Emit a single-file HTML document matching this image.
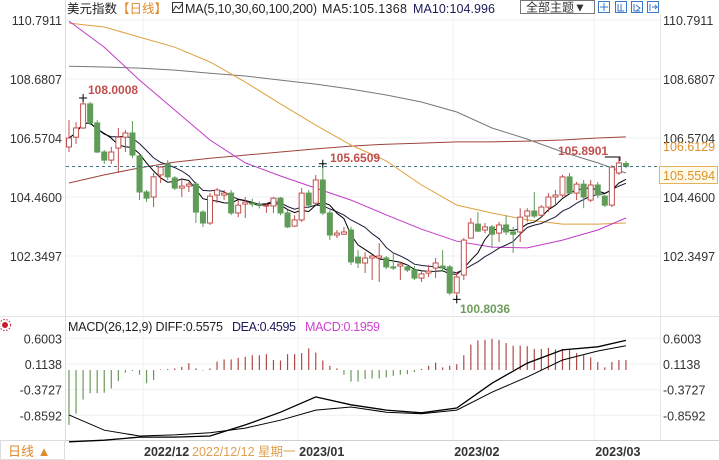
<!DOCTYPE html>
<html><head><meta charset="utf-8"><style>
body{margin:0;background:#fff;}
svg{display:block;font-family:"Liberation Sans","Noto Sans CJK SC",sans-serif;}
</style></head><body>
<svg id="chart" width="719" height="460" viewBox="0 0 719 460" xmlns="http://www.w3.org/2000/svg">
<rect x="0" y="0" width="719" height="460" fill="#fff"/>
<g id="grid" stroke="#eef0f3" stroke-width="1"></g>
<line x1="65.5" y1="0" x2="65.5" y2="440" stroke="#ddd"/>
<line x1="660.5" y1="14" x2="660.5" y2="440" stroke="#e6e6e6"/>
<line x1="0" y1="316.5" x2="719" y2="316.5" stroke="#e4e4e4"/>
<line x1="0" y1="440.5" x2="719" y2="440.5" stroke="#cfcfcf"/>
<g id="mas"></g>
<g id="candles"></g>
<line x1="66" y1="166.5" x2="660" y2="166.5" stroke="#3d7385" stroke-dasharray="3,3"/>
<g id="macd"></g>

<!-- header -->
<text x="67" y="13" font-size="12.5" fill="#222">美元指数</text>
<text x="117" y="13" font-size="12.5" fill="#e08a2a">【日线】</text>
<g><rect x="172.5" y="2.5" width="10" height="10" fill="none" stroke="#333"/><polyline points="173,11 176,6 179,9 182,4" fill="none" stroke="#333"/></g>
<text x="185" y="13" font-size="12.5" fill="#222" textLength="132">MA(5,10,30,60,100,200)</text>
<text x="322" y="13" font-size="12.5" fill="#222" textLength="85">MA5:105.1368</text>
<text x="413" y="13" font-size="12.5" fill="#1a1a5a" textLength="82">MA10:104.996</text>
<g><rect x="520.5" y="0.5" width="74" height="13" fill="#fff" stroke="#777"/><text x="526" y="11.5" font-size="12" fill="#333">全部主题▼</text></g>
<g stroke="#3a78c8" fill="none">
<rect x="598.5" y="1.5" width="11" height="11"/><rect x="615.5" y="1.5" width="11" height="11"/><rect x="631.5" y="1.5" width="11" height="11"/><rect x="647.5" y="1.5" width="11" height="11"/>
<path d="M604 3v8M600 7h8M618 4v7h6M621 4v7M634 4v7h6M636 5l4 3-4 3M650 4v7M652 7h5l-2-2M657 7l-2 2"/>
</g>

<!-- annotations -->
<text x="88" y="94" font-size="12" font-weight="bold" fill="#c0504d">108.0008</text>
<text x="330" y="162" font-size="12" font-weight="bold" fill="#c0504d">105.6509</text>
<text x="558" y="155" font-size="12" font-weight="bold" fill="#c0504d">105.8901</text>
<text x="460" y="313" font-size="12" font-weight="bold" fill="#6f9c5c">100.8036</text>

<g id="axes"></g>
<text x="663" y="151" font-size="12.5" fill="#e0902a">106.6129</text>
<g><rect x="659.5" y="166.5" width="58" height="17" fill="#fffbea" stroke="#e8b060"/><text x="663" y="180" font-size="12.5" fill="#e0902a">105.5594</text></g>

<!-- macd header -->
<g><circle cx="5" cy="325" r="3" fill="#c02030"/><circle cx="5" cy="325" r="5.5" fill="none" stroke="#c02030" stroke-dasharray="1.5,1.5"/></g>
<text x="68" y="331" font-size="12.5" fill="#222" textLength="155">MACD(26,12,9) DIFF:0.5575</text>
<text x="232" y="331" font-size="12.5" fill="#1a1a5a" textLength="64">DEA:0.4595</text>
<text x="305" y="331" font-size="12.5" fill="#d040d0" textLength="75">MACD:0.1959</text>

<!-- bottom -->
<rect x="0.5" y="440.5" width="64" height="19" fill="#fff" stroke="#ddd"/>
<text x="8" y="456" font-size="13" fill="#e08a2a">日线 ▲</text>
<text x="192" y="456" font-size="12.5" fill="#e0a050">2022/12/12 星期一</text>
</svg>
<script>
const opens=[106.25,106.60,106.93,107.79,107.11,106.07,105.78,106.21,106.60,106.75,105.93,104.64,104.46,105.25,105.64,105.14,104.78,104.85,104.92,103.92,103.53,104.53,104.53,104.60,103.89,104.21,104.24,104.20,104.14,104.14,104.42,103.89,103.42,103.64,104.60,104.24,105.07,103.89,103.10,103.13,103.28,102.31,102.10,102.28,102.28,102.28,101.96,101.99,101.96,101.85,101.56,101.74,101.92,101.99,101.96,101.03,101.67,102.99,103.49,103.28,103.39,103.17,103.46,103.21,103.21,103.78,103.96,103.81,104.10,104.46,104.53,105.18,104.60,104.92,104.35,104.89,104.49,104.17,105.32,105.66];
const closes=[106.57,106.93,107.79,107.11,106.07,105.78,106.07,106.60,106.75,105.96,104.64,104.42,105.18,105.53,105.18,104.78,104.85,104.92,103.92,103.53,104.49,104.71,104.60,103.89,104.17,104.28,104.22,104.18,104.17,104.42,103.89,103.39,103.64,104.60,104.17,105.07,103.89,103.10,103.17,103.21,102.14,102.10,102.28,102.35,102.35,101.96,101.92,102.06,101.85,101.56,101.71,101.81,102.10,101.92,101.03,101.60,102.92,103.53,103.24,103.39,103.13,103.46,103.21,103.13,103.74,103.96,103.78,104.10,104.46,104.53,105.18,104.60,104.92,104.46,104.89,104.53,104.17,105.53,105.68,105.56];
const highs=[107.21,107.14,108.00,107.86,107.21,106.14,106.25,106.93,106.86,107.18,106.00,104.71,105.32,105.57,105.78,105.21,105.14,105.00,105.00,103.99,104.60,104.78,104.71,104.71,104.35,104.46,104.40,104.30,104.24,104.46,104.46,103.99,103.81,104.78,104.71,105.25,105.65,103.99,103.28,103.39,103.39,102.56,102.49,102.38,102.81,102.35,102.46,102.13,102.06,101.99,101.85,102.03,102.28,102.56,102.03,101.78,102.99,103.71,103.92,103.53,103.46,103.57,103.81,103.39,104.06,104.06,104.64,104.17,104.60,104.71,105.25,105.32,105.00,105.07,105.07,105.00,104.53,105.60,105.89,105.75];
const lows=[106.07,106.36,106.89,107.03,106.03,105.64,105.64,105.32,106.07,105.85,104.35,104.28,104.10,104.96,105.07,104.71,104.46,104.64,103.53,103.39,103.46,104.24,104.35,103.81,103.74,103.71,104.10,104.05,103.89,103.89,103.81,103.35,103.39,103.57,104.10,104.17,103.81,102.92,102.99,103.10,102.03,101.92,101.74,101.49,101.42,101.88,101.85,101.49,101.78,101.49,101.42,101.60,101.56,101.78,100.95,100.80,101.49,102.99,103.21,103.17,102.63,102.85,103.10,102.46,102.85,103.57,103.71,103.74,103.92,104.17,104.46,104.53,104.35,104.06,104.28,104.42,104.10,104.10,105.25,105.49];
const maIdx=[0,5,10,15,20,25,30,35,40,45,50,55,60,65,70,75,79];
const ma30=[110.75,109.82,108.64,107.57,106.50,105.68,105.21,104.78,104.35,103.82,103.31,102.88,102.67,102.64,102.92,103.28,103.71];
const ma60=[110.68,110.54,110.18,109.82,109.29,108.57,107.79,107.03,106.32,105.75,104.89,104.17,103.89,103.64,103.49,103.49,103.53];
const ma100=[109.14,109.11,109.07,109.00,108.89,108.79,108.64,108.50,108.32,108.11,107.86,107.50,106.93,106.53,106.07,105.68,105.32];
const ma200=[104.96,105.25,105.50,105.71,105.85,105.96,106.07,106.18,106.28,106.35,106.39,106.43,106.43,106.46,106.50,106.57,106.61];
const macdHist=[-1.04,-0.83,-0.56,-0.44,-0.44,-0.43,-0.35,-0.21,-0.05,-0.02,-0.09,-0.25,-0.19,0.01,0.02,0.03,0.06,0.13,0.03,-0.01,0.03,0.16,0.20,0.20,0.23,0.25,0.28,0.28,0.30,0.19,0.18,0.30,0.30,0.32,0.41,0.33,0.18,0.08,0.03,-0.09,-0.22,-0.22,-0.17,-0.16,-0.16,-0.14,-0.11,-0.09,-0.08,-0.04,0.02,0.08,0.14,0.05,0.08,0.11,0.28,0.48,0.56,0.57,0.59,0.57,0.51,0.46,0.46,0.45,0.40,0.40,0.42,0.39,0.40,0.40,0.32,0.28,0.24,0.15,0.05,0.15,0.19,0.19];
const diffVals=[-1.36,-1.33,-1.27,-1.27,-1.25,-1.04,-0.80,-0.51,-0.66,-0.76,-0.81,-0.72,-0.25,0.13,0.38,0.44,0.56];
const deaVals=[-0.85,-1.14,-1.25,-1.23,-1.19,-1.10,-0.95,-0.76,-0.70,-0.80,-0.83,-0.76,-0.42,-0.13,0.19,0.36,0.46];
const priceTicks=[110.7911,108.6807,106.5704,104.4600,102.3497];
const macdTicks=[0.6003,0.1138,-0.3727,-0.8592];
const dateLabels=["2022/12","2023/01","2023/02","2023/03"];
const dateIdx=[10.5,32.5,54.5,74.5];

const NS="http://www.w3.org/2000/svg";
const xs=i=>69+i*7.05;
const yp=p=>20+(110.7911-p)*27.96;
const ym=v=>370-v*52.8;
function mk(tag,attrs,parent){const e=document.createElementNS(NS,tag);for(const k in attrs)e.setAttribute(k,attrs[k]);parent.appendChild(e);return e;}
const grid=document.getElementById('grid'),axes=document.getElementById('axes'),cg=document.getElementById('candles'),mg=document.getElementById('mas'),md=document.getElementById('macd');

priceTicks.forEach((t,k)=>{const y=yp(t);
 const g=mk('line',{x1:66,y1:y,x2:660,y2:y},grid);
 
 
 const l=mk('text',{x:62,y:y+5,'text-anchor':'end','font-size':12.5,fill:'#333'},axes);l.textContent=t.toFixed(4);
 
 
 if(k!==2){const r=mk('text',{x:663,y:y+5,'font-size':12.5,fill:'#333'},axes);r.textContent=t.toFixed(4);
 
 }
 else{const r=mk('text',{x:663,y:y+5,'font-size':12.5,fill:'#333'},axes);r.textContent=t.toFixed(4);
 
 }
});
macdTicks.forEach(t=>{const y=ym(t);
 const g=mk('line',{x1:66,y1:y,x2:660,y2:y},grid);
 
 
 const l=mk('text',{x:62,y:y+5,'text-anchor':'end','font-size':12.5,fill:'#333'},axes);l.textContent=t.toFixed(4);
 
 
 const r=mk('text',{x:663,y:y+5,'font-size':12.5,fill:'#333'},axes);r.textContent=t.toFixed(4);
 
 
});
dateLabels.forEach((d,k)=>{const x=xs(dateIdx[k]);
 const g=mk('line',{x1:x,y1:14,x2:x,y2:440},grid);
 
 
 const t=mk('text',{x:x+1,y:456,'font-size':12.5,'font-weight':'bold',fill:'#333'},axes);t.textContent=d;
 
 
});

function poly(vals,idx,yf,color,w,name,parent){
 const pts=vals.map((v,k)=>xs(idx[k]).toFixed(1)+','+yf(v).toFixed(1)).join(' ');
 const p=mk('polyline',{points:pts,fill:'none',stroke:color,'stroke-width':w},parent);
 
 
}
poly(ma200,maIdx,yp,'#a0443c',1,'ma200-line',mg);
poly(ma100,maIdx,yp,'#777',1,'ma100-line',mg);
poly(ma60,maIdx,yp,'#e0a040',1,'ma60-line',mg);
poly(ma30,maIdx,yp,'#c23ac8',1,'ma30-line',mg);
function ma(n){return closes.map((c,i)=>{const s=closes.slice(Math.max(0,i-n+1),i+1);return s.reduce((a,b)=>a+b,0)/s.length;});}
const allIdx=closes.map((c,i)=>i);

closes.forEach((c,i)=>{
 const o=opens[i],up=c>=o,x=xs(i),col=up?'#c0504d':'#5f9c58';
 const w=mk('line',{x1:x,y1:yp(highs[i]),x2:x,y2:yp(lows[i]),stroke:col,'stroke-width':1},cg);
 
 
 const top=yp(Math.max(o,c)),h=Math.max(1,Math.abs(yp(o)-yp(c)));
 const b=mk('rect',{x:x-2.5,y:top,width:5,height:h,fill:up?'#fff':col,stroke:col,'stroke-width':1},cg);
 
 
});
poly(ma(10),allIdx,yp,'#1a1a3a',1,'ma10-line',mg);
poly(ma(5),allIdx,yp,'#000',1,'ma5-line',mg);
// markers for highs/lows
[[2,highs[2]],[36,highs[36]],[55,lows[55]]].forEach(m=>{const x=xs(m[0]),y=yp(m[1]);
 const c=mk('path',{d:`M${x-4} ${y}H${x+4}M${x} ${y-4}V${y+4}`,stroke:'#000'},cg);
 
 
});
const rm=mk('path',{d:`M${xs(76)} ${yp(highs[78])}H${xs(78)+1}V${yp(highs[78])+4}`,stroke:'#000',fill:'none'},cg);



macdHist.forEach((v,i)=>{const x=xs(i);
 const b=mk('line',{x1:x,y1:ym(0),x2:x,y2:ym(v),stroke:v>=0?'#b04a48':'#6a9a5a','stroke-width':1.2},md);
 
 
});
poly(deaVals,maIdx,ym,'#000',1,'dea-line',md);
poly(diffVals,maIdx,ym,'#000',1.3,'diff-line',md);
</script>
</body></html>
